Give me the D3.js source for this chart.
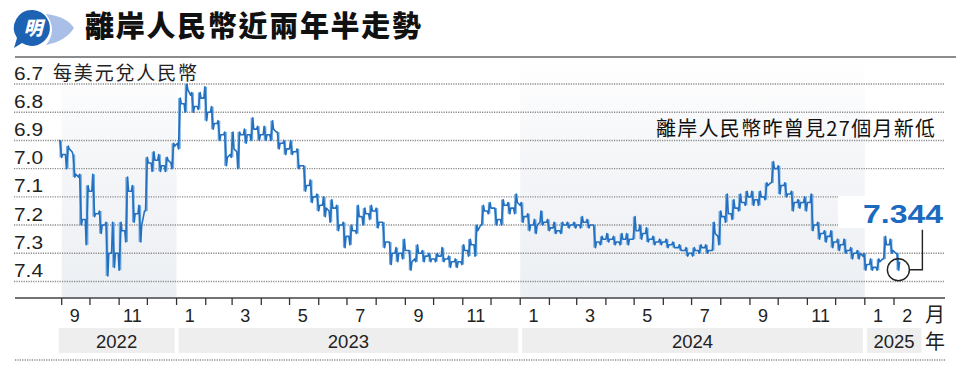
<!DOCTYPE html>
<html><head><meta charset="utf-8">
<script src="https://cdn.jsdelivr.net/npm/d3@7"></script>
<style>body{margin:0;background:#fff;overflow:hidden}</style>
</head><body>
<svg id="c" width="960" height="373"></svg>
<script>
// ---------- DATA ----------
const firstWeek = "2022-08-29"; // Monday of first weekly bar
const weekOpen = [6.90,6.95,6.94,7.03,7.18,7.08,7.16,7.20,7.30,7.30,7.22,7.08,7.16,7.15,6.98,6.97,6.99,6.98,6.91,6.77,6.74,6.78,6.75,6.80,6.84,6.88,6.95,6.94,6.88,6.88,6.86,6.88,6.88,6.87,6.91,6.93,6.94,6.99,7.06,7.10,7.13,7.15,7.14,7.20,7.24,7.22,7.17,7.16,7.15,7.19,7.26,7.30,7.30,7.29,7.32,7.30,7.31,7.32,7.31,7.32,7.33,7.33,7.29,7.27,7.20,7.15,7.14,7.18,7.13,7.14,7.13,7.17,7.20,7.19,7.19,7.21,7.22,7.20,7.20,7.20,7.19,7.20,7.26,7.25,7.25,7.26,7.25,7.25,7.22,7.23,7.25,7.26,7.26,7.27,7.28,7.29,7.30,7.29,7.28,7.29,7.24,7.17,7.16,7.14,7.12,7.10,7.11,7.10,7.05,7.00,7.06,7.09,7.12,7.12,7.12,7.20,7.23,7.24,7.26,7.27,7.29,7.30,7.31,7.34,7.35,7.32,7.27,7.30];
const weekHigh = [6.96,7.00,7.03,7.20,7.27,7.17,7.23,7.38,7.35,7.36,7.26,7.19,7.26,7.15,7.01,7.01,7.01,7.00,6.93,6.80,6.80,6.79,6.83,6.86,6.90,6.99,6.96,7.00,6.91,6.90,6.90,6.90,6.90,6.93,6.95,6.95,7.00,7.08,7.12,7.15,7.17,7.19,7.22,7.28,7.27,7.23,7.20,7.18,7.21,7.28,7.34,7.33,7.32,7.36,7.33,7.33,7.33,7.33,7.33,7.35,7.35,7.34,7.31,7.31,7.20,7.16,7.20,7.20,7.16,7.16,7.19,7.22,7.23,7.20,7.22,7.23,7.23,7.21,7.21,7.21,7.21,7.28,7.27,7.26,7.27,7.27,7.27,7.25,7.25,7.26,7.27,7.27,7.28,7.28,7.29,7.31,7.31,7.30,7.30,7.29,7.27,7.19,7.18,7.15,7.13,7.13,7.13,7.11,7.05,7.09,7.10,7.15,7.14,7.15,7.22,7.25,7.26,7.28,7.29,7.30,7.32,7.32,7.36,7.36,7.36,7.32,7.30,7.36];
const weekLow = [6.90,6.92,6.95,7.02,7.06,7.02,7.15,7.19,7.19,7.19,7.03,7.06,7.13,6.96,6.94,6.95,6.96,6.91,6.75,6.70,6.73,6.73,6.71,6.78,6.83,6.87,6.87,6.87,6.86,6.82,6.85,6.85,6.83,6.87,6.90,6.90,6.93,6.99,7.04,7.09,7.10,7.11,7.13,7.19,7.20,7.13,7.14,7.13,7.14,7.19,7.26,7.28,7.25,7.29,7.27,7.29,7.30,7.30,7.28,7.31,7.32,7.27,7.25,7.20,7.13,7.12,7.14,7.11,7.12,7.09,7.12,7.16,7.18,7.15,7.18,7.19,7.19,7.19,7.19,7.17,7.18,7.20,7.24,7.23,7.24,7.23,7.23,7.17,7.20,7.21,7.24,7.25,7.25,7.26,7.27,7.28,7.28,7.27,7.27,7.19,7.15,7.09,7.11,7.09,7.08,7.08,7.08,7.05,6.975,6.99,7.05,7.08,7.11,7.10,7.09,7.19,7.22,7.22,7.25,7.25,7.28,7.29,7.30,7.32,7.32,7.24,7.25,7.30];
const weekClose = [6.95,6.93,7.02,7.18,7.08,7.16,7.20,7.30,7.30,7.22,7.08,7.16,7.20,6.98,6.97,6.99,6.97,6.92,6.77,6.72,6.78,6.75,6.80,6.84,6.88,6.96,6.93,6.88,6.88,6.86,6.88,6.88,6.86,6.91,6.93,6.94,6.99,7.06,7.10,7.13,7.14,7.14,7.20,7.24,7.22,7.17,7.16,7.15,7.19,7.26,7.30,7.30,7.29,7.33,7.30,7.31,7.32,7.31,7.32,7.33,7.33,7.29,7.27,7.22,7.15,7.14,7.18,7.13,7.14,7.12,7.17,7.20,7.20,7.19,7.21,7.22,7.20,7.20,7.20,7.19,7.20,7.26,7.25,7.25,7.26,7.25,7.25,7.22,7.23,7.25,7.26,7.26,7.27,7.28,7.29,7.30,7.29,7.28,7.29,7.23,7.17,7.16,7.14,7.12,7.10,7.11,7.10,7.06,7.00,7.06,7.09,7.12,7.12,7.12,7.20,7.23,7.24,7.26,7.27,7.29,7.30,7.30,7.34,7.35,7.33,7.27,7.29,7.33];

const yTicks = [6.7, 6.8, 6.9, 7.0, 7.1, 7.2, 7.3, 7.4];
const monthLabels = [
  ["2022-09-15","9"],["2022-11-15","11"],["2023-01-15","1"],["2023-03-15","3"],["2023-05-15","5"],
  ["2023-07-15","7"],["2023-09-15","9"],["2023-11-15","11"],["2024-01-15","1"],["2024-03-15","3"],
  ["2024-05-15","5"],["2024-07-15","7"],["2024-09-15","9"],["2024-11-15","11"],["2025-01-15","1"],["2025-02-15","2"]
];
const yearNames = ["2022","2023","2024","2025"];
const yearStarts = ["2022-09-01","2023-01-01","2024-01-01","2025-01-01"];
const yearEnds   = ["2023-01-01","2024-01-01","2025-01-01","2025-03-01"];
const shadedYears = ["2022","2024"];

const title = "離岸人民幣近兩年半走勢";
const unitLabel = "每美元兌人民幣";
const note = "離岸人民幣昨曾見27個月新低";
const latestValue = "7.344";
const monthUnit = "月", yearUnit = "年";

// ---------- SCALES ----------
const parse = d3.timeParse("%Y-%m-%d");
const svg = d3.select("#c");
const x = d3.scaleTime().domain([parse("2022-09-01"), parse("2025-02-01")]).range([61.7, 894]);
const y = d3.scaleLinear().domain([6.7, 7.4]).range([84, 281.5]);

const w0 = parse(firstWeek);
const weeks = weekOpen.map((o, i) => ({
  mon: d3.timeDay.offset(w0, 7 * i),
  o, h: weekHigh[i], l: weekLow[i], c: weekClose[i]
}));

const CJK = "'Noto Sans CJK TC','Noto Sans CJK SC',sans-serif";
const LAT = "'Liberation Sans',Arial,'Noto Sans CJK TC',sans-serif";

// ---------- HEADER ----------
const logo = svg.append("g");
logo.append("path")
  .attr("d", "M46 14 Q66 16 74 28 Q66 41 46 45 Q58 30 46 14 Z")
  .attr("fill", "#a9bfe8");
logo.append("path")
  .attr("d", "M33 10 A18 18 0 1 1 22 43 L14 48 L17 38 A18 18 0 0 1 33 10 Z")
  .attr("fill", "#1d62b3");
logo.append("text").attr("x", 33).attr("y", 35).attr("text-anchor", "middle")
  .attr("font-family", CJK).attr("font-weight", 900).attr("font-size", 19)
  .attr("fill", "#fff").attr("font-style", "italic").text("明");

svg.append("text").attr("x", 85).attr("y", 37)
  .attr("font-family", CJK).attr("font-weight", 900).attr("font-size", 29)
  .attr("textLength", 336).attr("lengthAdjust", "spacing")
  .attr("fill", "#111").text(title);

svg.append("line").attr("x1", 15).attr("x2", 956).attr("y1", 57).attr("y2", 57)
  .attr("stroke", "#8c8c8c").attr("stroke-width", 2);

// ---------- SHADING ----------
const defs = svg.append("defs");
const grad = defs.append("linearGradient").attr("id", "shade")
  .attr("x1", 0).attr("x2", 0).attr("y1", 0).attr("y2", 1);
grad.append("stop").attr("offset", "0%").attr("stop-color", "#ffffff");
grad.append("stop").attr("offset", "35%").attr("stop-color", "#f6f7f9");
grad.append("stop").attr("offset", "100%").attr("stop-color", "#eceff3");

yearNames.forEach((yn, i) => {
  if (!shadedYears.includes(yn)) return;
  const xs = x(parse(yearStarts[i])), xe = x(parse(yearEnds[i]));
  svg.append("rect").attr("x", xs).attr("width", xe - xs)
    .attr("y", 60).attr("height", 298 - 60).attr("fill", "url(#shade)");
});

// ---------- GRID ----------
svg.append("g").selectAll("line").data(yTicks).join("line")
  .attr("x1", 14).attr("x2", 945)
  .attr("y1", d => y(d)).attr("y2", d => y(d))
  .attr("stroke", "#8a8a8a").attr("stroke-width", 1.4).attr("stroke-dasharray", "1.2,1.2");

// knockout behind the latest value label
svg.append("rect").attr("x", 838).attr("y", 196).attr("width", 115).attr("height", 32).attr("fill", "#fff");

svg.append("g").selectAll("text").data(yTicks).join("text")
  .attr("x", 14).attr("y", d => y(d) - 4.5)
  .attr("font-family", LAT).attr("font-size", 17.5)
  .attr("textLength", 29).attr("lengthAdjust", "spacingAndGlyphs")
  .attr("fill", "#222").text(d => d.toFixed(1));

svg.append("text").attr("x", 53).attr("y", 80)
  .attr("font-family", CJK).attr("font-size", 19)
  .attr("textLength", 144).attr("lengthAdjust", "spacing")
  .attr("fill", "#222").text(unitLabel);

// ---------- DATA MARKS ----------
svg.append("g").selectAll("line").data(weeks).join("line")
  .attr("x1", d => x(d3.timeDay.offset(d.mon, 2))).attr("x2", d => x(d3.timeDay.offset(d.mon, 2)))
  .attr("y1", d => y(d.l)).attr("y2", d => y(d.h))
  .attr("stroke", "#6ea8df").attr("stroke-width", 2.6);

const pts = [];
weeks.forEach(d => {
  const up = d.c >= d.o;
  pts.push([d.mon, d.o]);
  pts.push([d3.timeDay.offset(d.mon, 1), up ? d.l : d.h]);
  pts.push([d3.timeDay.offset(d.mon, 3), up ? d.h : d.l]);
  pts.push([d3.timeDay.offset(d.mon, 4), d.c]);
});
svg.append("path").datum(pts)
  .attr("d", d3.line().x(p => x(p[0])).y(p => y(p[1])))
  .attr("fill", "none").attr("stroke", "#2370c0").attr("stroke-width", 1.6)
  .attr("stroke-linejoin", "round");

// ---------- X AXIS ----------
svg.append("line").attr("x1", 15).attr("x2", 945).attr("y1", 298).attr("y2", 298)
  .attr("stroke", "#444").attr("stroke-width", 1.5);
const monthTicks = d3.timeMonth.range(parse("2022-09-01"), parse("2025-02-02"));
svg.append("g").selectAll("line").data(monthTicks).join("line")
  .attr("x1", d => x(d)).attr("x2", d => x(d)).attr("y1", 298).attr("y2", 305)
  .attr("stroke", "#333").attr("stroke-width", 1.3);
svg.append("g").selectAll("text").data(monthLabels).join("text")
  .attr("x", d => x(parse(d[0]))).attr("y", 322).attr("text-anchor", "middle")
  .attr("font-family", LAT).attr("font-size", 18).attr("fill", "#222").text(d => d[1]);

// year bands
yearNames.forEach((yn, i) => {
  let xs = x(parse(yearStarts[i])) + 2, xe = x(parse(yearEnds[i])) - 2;
  if (i === 0) xs -= 5;
  if (i === yearNames.length - 1) xe += 3;
  svg.append("rect").attr("x", xs).attr("width", xe - xs).attr("y", 328).attr("height", 25).attr("fill", "#eeeeee");
  svg.append("text").attr("x", (xs + xe) / 2).attr("y", 348).attr("text-anchor", "middle")
    .attr("font-family", LAT).attr("font-size", 18.5).attr("fill", "#222").text(yn);
});
svg.append("text").attr("x", 935).attr("y", 322).attr("text-anchor", "middle")
  .attr("font-family", CJK).attr("font-size", 20).attr("fill", "#222").text(monthUnit);
svg.append("text").attr("x", 935).attr("y", 349).attr("text-anchor", "middle")
  .attr("font-family", CJK).attr("font-size", 20).attr("fill", "#222").text(yearUnit);

svg.append("line").attr("x1", 15).attr("x2", 945).attr("y1", 360).attr("y2", 360)
  .attr("stroke", "#8a8a8a").attr("stroke-width", 1.4).attr("stroke-dasharray", "1.2,1.2");

// ---------- ANNOTATIONS ----------
svg.append("text").attr("x", 656).attr("y", 135.5)
  .attr("font-family", CJK).attr("font-size", 20)
  .attr("textLength", 279).attr("lengthAdjust", "spacing")
  .attr("fill", "#111").text(note);

svg.append("text").attr("x", 863).attr("y", 223)
  .attr("font-family", LAT).attr("font-weight", 900).attr("font-size", 25.5)
  .attr("textLength", 80).attr("lengthAdjust", "spacingAndGlyphs")
  .attr("fill", "#1a6bc0").text(latestValue);

const last = weeks[weeks.length - 1];
const cx = x(last.mon) + 2.5, cy = y(+latestValue) + 4;
svg.append("circle").attr("cx", cx).attr("cy", cy).attr("r", 11)
  .attr("fill", "none").attr("stroke", "#222").attr("stroke-width", 1.4);
svg.append("path")
  .attr("d", `M${cx + 11},${cy} H${x(last.mon) + 26.5} V${y(+latestValue) - 36}`)
  .attr("fill", "none").attr("stroke", "#222").attr("stroke-width", 1.4);
</script>
</body></html>
